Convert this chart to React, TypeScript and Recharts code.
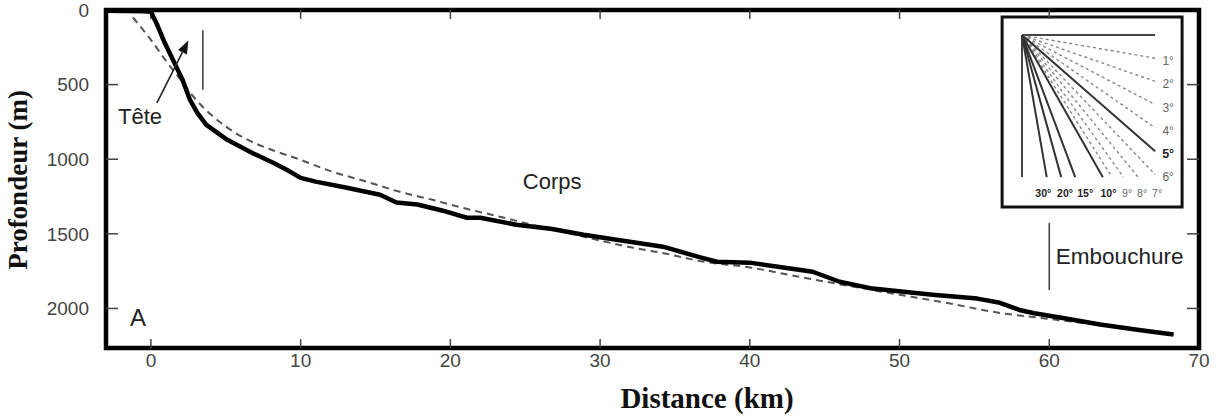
import React from "react"
import { LineChart, Line, XAxis, YAxis, ReferenceLine, ReferenceArea, ReferenceDot, Label } from "recharts"

// Profil du thalweg (km, m)
const profileKm = [-3, -0.5, 0, 0.4, 0.9, 1.5, 2.1, 2.6, 3.1, 3.7, 5.1, 6.8, 8.2, 9.1, 10, 11, 13, 15.3, 16.4, 17.8, 19.5, 21.1, 22, 24.4, 26.7, 28.9, 31.1, 34.2, 36.7, 37.8, 40, 42, 44.2, 46, 48.2, 52.2, 55.2, 56.7, 58, 59, 61, 63.4, 66, 68.3]
const profileM = [5, 8, 12, 95, 215, 340, 465, 600, 690, 770, 870, 960, 1025, 1072, 1125, 1150, 1190, 1238, 1290, 1303, 1345, 1392, 1392, 1439, 1466, 1506, 1539, 1586, 1658, 1687, 1693, 1722, 1754, 1821, 1867, 1908, 1934, 1962, 2010, 2032, 2066, 2108, 2145, 2175]

// Profil d'équilibre (tirets)
const fitKm = [-1.2, 0, 1, 2, 3, 4, 5, 6, 7, 8, 10, 12, 14.4, 16.5, 18.8, 21, 23.3, 25.5, 27.8, 30, 32.2, 34.5, 36.7, 40, 43.4, 46.7, 50, 53, 56.7, 60, 63.4, 66, 68.3]
const fitM = [50, 200, 340, 470, 600, 700, 780, 845, 895, 935, 1004, 1080, 1150, 1215, 1272, 1330, 1385, 1440, 1493, 1545, 1593, 1635, 1683, 1725, 1790, 1850, 1908, 1960, 2030, 2070, 2112, 2145, 2175]

const xTicks = [0, 10, 20, 30, 40, 50, 60, 70]
const yTicks = [0, 500, 1000, 1500, 2000]

// pentes de l'encart (degrés)
const solidAngles = [5, 10, 15, 20, 30]
const dashedAngles = [1, 2, 3, 4, 6, 7, 8, 9]
const rightAngles = [1, 2, 3, 4, 5, 6]
const bottomAngles = [30, 20, 15, 10, 9, 8, 7]
const boldAngles = [5, 10, 15, 20, 30]

const profile = profileKm.map((km, i) => ({ km, m: profileM[i] }))
const fit = fitKm.map((km, i) => ({ km, m: fitM[i] }))

const X_MIN = -3
const X_MAX = 70
const Y_MAX = 2265

const sans = "'Liberation Sans', Arial, sans-serif"
const serif = "'Liberation Serif', 'Times New Roman', serif"

// encart
const O = { x: 58.18, y: 168 }
const RAY_W = 8.89
const RAY_H = 952
// rangée des étiquettes du bas de l'encart (km)
const BOTTOM_LABEL_X0 = 59.6
const BOTTOM_LABEL_STEP = [0, 1.45, 1.35, 1.55, 1.25, 1.0, 1.0]
const BOTTOM_LABEL_Y = 1228

function slope(deg: number) {
  return Math.tan((deg * Math.PI) / 180) * 1000
}

function rayEnd(deg: number) {
  const s = slope(deg)
  if (s * RAY_W <= RAY_H) return { x: O.x + RAY_W, y: O.y + s * RAY_W }
  return { x: O.x + RAY_H / s, y: O.y + RAY_H }
}

const textAt = (value: string, size: number, extra: any = {}) => (p: any) => (
  <text
    x={p.cx}
    y={p.cy}
    textAnchor="middle"
    dominantBaseline="central"
    fontFamily={sans}
    fontSize={size}
    fill="#222"
    {...extra}
  >
    {value}
  </text>
)

const ArrowShape = (p: any) => {
  const { x1, y1, x2, y2 } = p
  const a = Math.atan2(y2 - y1, x2 - x1)
  const len = 13
  const w = 5
  const bx = x2 - len * Math.cos(a)
  const by = y2 - len * Math.sin(a)
  const px = -Math.sin(a) * w
  const py = Math.cos(a) * w
  return (
    <g>
      <line x1={x1} y1={y1} x2={bx} y2={by} stroke="#222" strokeWidth={1.6} />
      <polygon points={`${x2},${y2} ${bx + px},${by + py} ${bx - px},${by - py}`} fill="#111" />
    </g>
  )
}

export default function App() {
  let bx = BOTTOM_LABEL_X0
  const bottomLabels = bottomAngles.map((d, i) => {
    bx += BOTTOM_LABEL_STEP[i]
    return { d, x: bx }
  })

  return (
    <div style={{ width: 1219, height: 417 }}>
      <style>{`body{margin:0}`}</style>
      <LineChart width={1219} height={417} margin={{ top: 10, right: 20, bottom: 0, left: 0 }}>
        <XAxis
          type="number"
          dataKey="km"
          domain={[X_MIN, X_MAX]}
          ticks={xTicks}
          interval={0}
          allowDataOverflow
          axisLine={false}
          tickLine={false}
          tickSize={4}
          tickMargin={2}
          height={69}
          tick={{ fill: "#444", fontSize: 19, fontFamily: sans }}
        >
          <Label
            content={() => (
              <text x={707} y={408} textAnchor="middle" fontFamily={serif} fontWeight="bold" fontSize={29} fill="#111">
                Distance (km)
              </text>
            )}
          />
        </XAxis>
        <YAxis
          type="number"
          reversed
          domain={[0, Y_MAX]}
          ticks={yTicks}
          interval={0}
          allowDataOverflow
          axisLine={false}
          tickLine={false}
          tickSize={15}
          tickMargin={2}
          width={106}
          tick={{ fill: "#444", fontSize: 19, fontFamily: sans }}
        >
          <Label
            content={() => (
              <text
                x={27}
                y={180}
                transform="rotate(-90 27 180)"
                textAnchor="middle"
                fontFamily={serif}
                fontWeight="bold"
                fontSize={27}
                fill="#111"
              >
                Profondeur (m)
              </text>
            )}
          />
        </YAxis>

        {/* graduations intérieures */}
        {xTicks.filter((t) => t < X_MAX).map((t) => (
          <ReferenceLine key={"xb" + t} segment={[{ x: t, y: Y_MAX }, { x: t, y: Y_MAX - 60 }]} stroke="#444" strokeWidth={1.5} />
        ))}
        {xTicks.filter((t) => t < X_MAX).map((t) => (
          <ReferenceLine key={"xt" + t} segment={[{ x: t, y: 0 }, { x: t, y: 60 }]} stroke="#444" strokeWidth={1.5} />
        ))}
        {yTicks.filter((t) => t > 0).map((t) => (
          <ReferenceLine key={"yl" + t} segment={[{ x: X_MIN, y: t }, { x: X_MIN + 0.8, y: t }]} stroke="#444" strokeWidth={1.5} />
        ))}
        {yTicks.filter((t) => t > 0).map((t) => (
          <ReferenceLine key={"yr" + t} segment={[{ x: X_MAX, y: t }, { x: X_MAX - 0.8, y: t }]} stroke="#444" strokeWidth={1.5} />
        ))}

        <Line data={fit} dataKey="m" type="monotone" stroke="#555" strokeWidth={2} strokeDasharray="7 5" dot={false} isAnimationActive={false} />
        <Line data={profile} dataKey="m" type="linear" stroke="#000" strokeWidth={4.5} strokeLinejoin="round" dot={false} isAnimationActive={false} />

        {/* annotations */}
        <ReferenceLine segment={[{ x: 3.47, y: 135 }, { x: 3.47, y: 535 }]} stroke="#444" strokeWidth={1.6} />
        <ReferenceLine segment={[{ x: 0.4, y: 623 }, { x: 2.5, y: 205 }]} shape={ArrowShape} />
        <ReferenceDot x={-0.73} y={717} r={0} shape={textAt("Tête", 22)} />
        <ReferenceDot x={26.8} y={1146} r={0} shape={textAt("Corps", 22)} />
        <ReferenceLine segment={[{ x: 60, y: 1428 }, { x: 60, y: 1877 }]} stroke="#444" strokeWidth={1.6} />
        <ReferenceDot x={64.7} y={1655} r={0} shape={textAt("Embouchure", 22.5)} />
        <ReferenceDot x={-0.87} y={2058} r={0} shape={textAt("A", 24)} />

        {/* encart des pentes */}
        <ReferenceArea x1={56.85} x2={68.87} y1={47} y2={1320} fill="#fff" fillOpacity={1} stroke="#111" strokeWidth={3} ifOverflow="visible" />
        <ReferenceLine segment={[{ x: O.x, y: O.y }, { x: O.x + RAY_W, y: O.y }]} stroke="#444" strokeWidth={2} />
        <ReferenceLine segment={[{ x: O.x, y: O.y }, { x: O.x, y: O.y + RAY_H }]} stroke="#444" strokeWidth={2} />
        {dashedAngles.map((d) => {
          const e = rayEnd(d)
          return <ReferenceLine key={"d" + d} segment={[{ x: O.x, y: O.y }, { x: e.x, y: e.y }]} stroke="#888" strokeWidth={1.4} strokeDasharray="3 3" />
        })}
        {solidAngles.map((d) => {
          const e = rayEnd(d)
          return <ReferenceLine key={"s" + d} segment={[{ x: O.x, y: O.y }, { x: e.x, y: e.y }]} stroke="#333" strokeWidth={2} />
        })}
        {rightAngles.map((d) => {
          const e = rayEnd(d)
          const bold = boldAngles.includes(d)
          return (
            <ReferenceDot
              key={"r" + d}
              x={e.x + 0.87}
              y={e.y + 20}
              r={0}
              ifOverflow="visible"
              shape={textAt(d + "°", bold ? 12.5 : 12, { fill: bold ? "#222" : "#666", fontWeight: bold ? "bold" : "normal" })}
            />
          )
        })}
        {bottomLabels.map(({ d, x }) => {
          const bold = boldAngles.includes(d)
          return (
            <ReferenceDot
              key={"b" + d}
              x={x}
              y={BOTTOM_LABEL_Y}
              r={0}
              ifOverflow="visible"
              shape={textAt(d + "°", 10.5, { fill: bold ? "#222" : "#666", fontWeight: bold ? "bold" : "normal" })}
            />
          )
        })}

        {/* cadre */}
        <ReferenceArea x1={X_MIN} x2={X_MAX} y1={0} y2={Y_MAX} fill="none" stroke="#000" strokeWidth={4.5} ifOverflow="visible" />
      </LineChart>
    </div>
  )
}
